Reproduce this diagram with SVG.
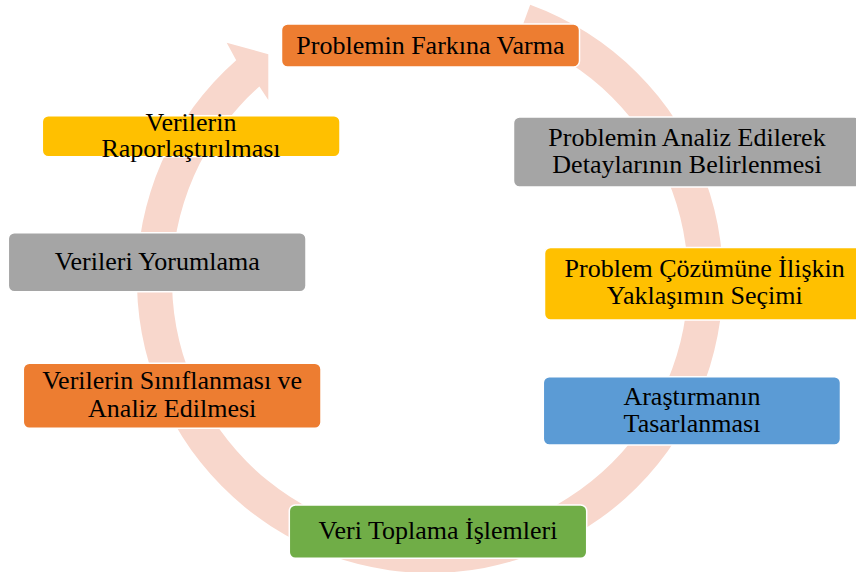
<svg xmlns="http://www.w3.org/2000/svg" width="856" height="572" viewBox="0 0 856 572">
  <style>
    .box { stroke: #FFFFFF; stroke-width: 1.5; }
    .t { font-size: 26px; fill: #000000; text-anchor: middle; }
    .orange { fill: #ED7D31; }
    .gray { fill: #A5A5A5; }
    .yellow { fill: #FFC000; }
    .blue { fill: #5B9BD5; }
    .green { fill: #70AD47; }
  </style>
  <rect x="0" y="0" width="856" height="572" fill="#FFFFFF"/>
  <g id="connectors">
    <path id="cycle-arrow" fill="#F8D7CC" d="M 530.2 4.7 A 293 293 0 1 1 236.2 60.2 L 226.7 42.7 L 268.3 54.3 L 268.3 100 L 259.4 86.5 A 258 258 0 1 0 518.2 37.6 Z"/>
  </g>
  <g font-family="'Liberation Serif', Tinos, 'Times New Roman', 'DejaVu Serif', serif">
  <g id="node1">
    <rect class="box orange" x="281.5" y="24" width="298" height="43" rx="6"/>
    <text class="t" x="430.4" y="54.3">Problemin Farkına Varma</text>
  </g>
  <g id="node2">
    <rect class="box gray" x="513.5" y="117" width="347" height="70" rx="6"/>
    <text class="t" x="687" y="145.7">Problemin Analiz Edilerek</text>
    <text class="t" x="687" y="173.3">Detaylarının Belirlenmesi</text>
  </g>
  <g id="node3">
    <rect class="box yellow" x="544.5" y="247.5" width="321" height="72.5" rx="6"/>
    <text class="t" x="704.7" y="276.7">Problem Çözümüne İlişkin</text>
    <text class="t" x="704.7" y="304">Yaklaşımın Seçimi</text>
  </g>
  <g id="node4">
    <rect class="box blue" x="543.3" y="376.7" width="297.2" height="68.3" rx="6"/>
    <text class="t" x="692" y="404.5">Araştırmanın</text>
    <text class="t" x="692" y="432">Tasarlanması</text>
  </g>
  <g id="node5">
    <rect class="box green" x="289.3" y="505" width="297.4" height="53.3" rx="6"/>
    <text class="t" x="438" y="539.3">Veri Toplama İşlemleri</text>
  </g>
  <g id="node6">
    <rect class="box orange" x="23.3" y="363.3" width="297.7" height="65" rx="6"/>
    <text class="t" x="172.2" y="389.3">Verilerin Sınıflanması ve</text>
    <text class="t" x="172.2" y="417.3">Analiz Edilmesi</text>
  </g>
  <g id="node7">
    <rect class="box gray" x="8.3" y="232.7" width="297.7" height="59" rx="6"/>
    <text class="t" x="157.2" y="270">Verileri Yorumlama</text>
  </g>
  <g id="node8">
    <rect class="box yellow" x="42.3" y="115.7" width="297.7" height="41" rx="6"/>
    <text class="t" x="191" y="130.7">Verilerin</text>
    <text class="t" x="191" y="157.3">Raporlaştırılması</text>
  </g>
  </g>
</svg>
